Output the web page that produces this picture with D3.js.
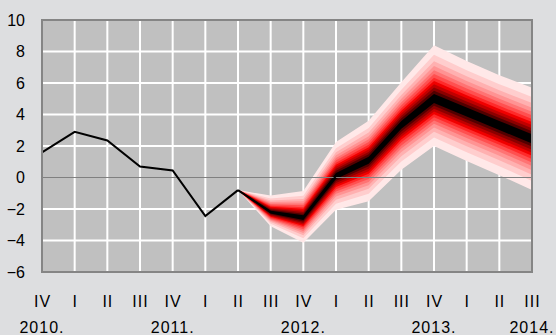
<!DOCTYPE html>
<html>
<head>
<meta charset="utf-8">
<script src="https://cdn.jsdelivr.net/npm/d3@7"></script>
<style>
  html, body { margin: 0; padding: 0; background: #dddee0; }
  svg { display: block; }
  text { font-family: "Liberation Sans", Arial, sans-serif; font-size: 16px; fill: #000; }
</style>
</head>
<body>
<svg id="chart" width="556" height="335"></svg>
<script>
// ---- data ----
const quarters = ["IV","I","II","III","IV","I","II","III","IV","I","II","III","IV","I","II","III"];
const yearLabels = ["2010.","2011.","2012.","2013.","2014."];
const yearAt = [0, 4, 8, 12, 15];
const yTicks = [-6, -4, -2, 0, 2, 4, 6, 8, 10];

// actual outturn (quarter index 0..6)
const actual = [1.6, 2.9, 2.35, 0.7, 0.45, -2.45, -0.8];

// projection fan (quarter index 6..15)
const fanStart = 6;
const fanCenter = [-0.8, -2.2, -2.55, 0.1, 1.1, 3.35, 5.0, 4.15, 3.3, 2.45];
const fanUpper  = [-0.8, -1.15, -0.85, 2.25, 3.6, 6.05, 8.4, 7.4, 6.5, 5.7];
const fanLower  = [-0.8, -3.1, -4.15, -2.05, -1.5, 0.5, 2.0, 1.05, 0.15, -0.8];

// band boundaries as share of the distance centre->edge (outer to inner)
const bandShares = [1.0, 0.82, 0.70, 0.61, 0.53, 0.46, 0.39, 0.33, 0.27, 0.21, 0.15, 0.09];
const bandColors = ["#ffe8e8","#ffcdcd","#ffb0b0","#ff9393","#ff7373","#ff5050","#ff2a2a",
                    "#f00000","#c00000","#8c0000","#520000","#000000"];

(function () {
// ---- layout ----
const svg = d3.select("#chart");
const W = 556, H = 335;
const pL = 42, pR = 532, pT = 20, pB = 272;

svg.append("rect").attr("width", W).attr("height", H).attr("fill", "#dddee0");

const x = d3.scaleLinear().domain([0, quarters.length - 1]).range([pL, pR]);
const y = d3.scaleLinear().domain([-6, 10]).range([pB, pT]);

// plot background
svg.append("rect")
  .attr("x", pL).attr("y", pT)
  .attr("width", pR - pL).attr("height", pB - pT)
  .attr("fill", "#c0c0c0");

// grid
const grid = svg.append("g");
grid.selectAll("line.h").data(yTicks.filter(d => d !== 0 && d !== -6 && d !== 10))
  .join("line").attr("class", "h")
  .attr("x1", pL).attr("x2", pR)
  .attr("y1", d => y(d)).attr("y2", d => y(d))
  .attr("stroke", "#ffffff").attr("stroke-width", 2);
grid.selectAll("line.v").data(d3.range(1, quarters.length - 1))
  .join("line").attr("class", "v")
  .attr("x1", d => x(d)).attr("x2", d => x(d))
  .attr("y1", pT).attr("y2", pB)
  .attr("stroke", "#ffffff").attr("stroke-width", 2);

// fan
const fanData = fanCenter.map((c, i) => ({ i: fanStart + i, c, u: fanUpper[i], l: fanLower[i] }));
const fanG = svg.append("g");
bandShares.forEach((s, k) => {
  const area = d3.area()
    .x(d => x(d.i))
    .y0(d => y(d.c - s * (d.c - d.l)))
    .y1(d => y(d.c + s * (d.u - d.c)));
  fanG.append("path").datum(fanData)
    .attr("d", area)
    .attr("fill", bandColors[k]);
});

// zero line
svg.append("line")
  .attr("x1", pL).attr("x2", pR)
  .attr("y1", y(0)).attr("y2", y(0))
  .attr("stroke", "#808080").attr("stroke-width", 1);

// central projection line
svg.append("path").datum(fanData)
  .attr("d", d3.line().x(d => x(d.i)).y(d => y(d.c)))
  .attr("fill", "none").attr("stroke", "#000").attr("stroke-width", 2);

// actual line
svg.append("path").datum(actual)
  .attr("d", d3.line().x((d, i) => x(i)).y(d => y(d)))
  .attr("fill", "none").attr("stroke", "#000").attr("stroke-width", 2);

// border
svg.append("rect")
  .attr("x", pL).attr("y", pT)
  .attr("width", pR - pL).attr("height", pB - pT)
  .attr("fill", "none").attr("stroke", "#858585").attr("stroke-width", 2);

// y axis labels
const yAxis = svg.append("g").attr("transform", `translate(${pL},0)`)
  .call(d3.axisLeft(y).tickValues(yTicks).tickSize(0).tickPadding(17).tickFormat(d3.format("d")));
yAxis.select(".domain").remove();
yAxis.selectAll("text").style("font-size", "16px").style("font-family", "'Liberation Sans', Arial, sans-serif").attr("fill", "#000");

// x axis quarter labels
const xAxis = svg.append("g").attr("transform", `translate(0,${pB})`)
  .call(d3.axisBottom(x).tickValues(d3.range(quarters.length)).tickSize(0).tickFormat(i => quarters[i]));
xAxis.select(".domain").remove();
xAxis.selectAll("text")
  .attr("y", 35).attr("dy", null)
  .style("letter-spacing", "1px")
  .style("font-size", "16px").style("font-family", "'Liberation Sans', Arial, sans-serif").attr("fill", "#000");

// year labels
svg.append("g").selectAll("text").data(yearLabels).join("text")
  .attr("x", (d, i) => x(yearAt[i]))
  .attr("y", 333)
  .attr("text-anchor", "middle")
  .style("letter-spacing", "1px")
  .text(d => d);
})();
</script>
</body>
</html>
